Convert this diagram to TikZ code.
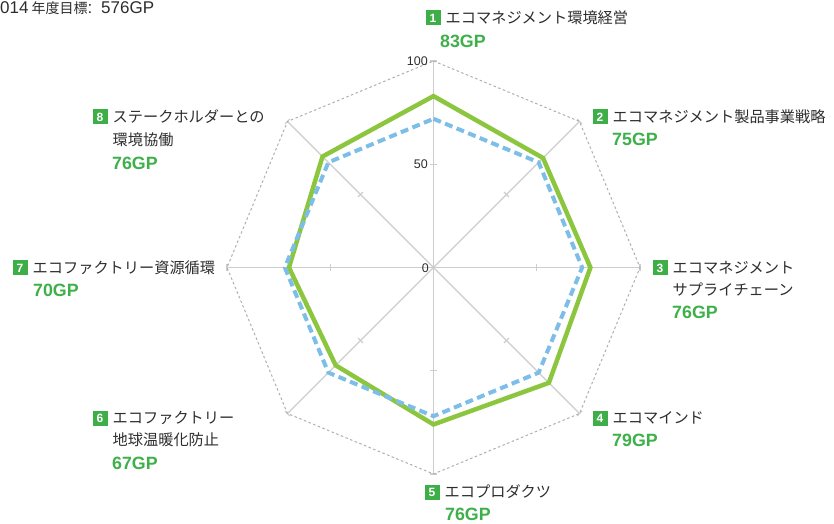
\documentclass[tikz,border=0pt]{standalone}
\usepackage{fontspec}
\setmainfont{Liberation Sans}
\newfontfamily\jpfont{Noto Sans CJK JP}
\usetikzlibrary{positioning,calc}

\definecolor{scoregreen}{RGB}{140,198,63}
\definecolor{goalblue}{RGB}{125,190,233}
\definecolor{badgegreen}{RGB}{62,174,73}
\definecolor{gpgreen}{RGB}{62,176,74}
\definecolor{labelgray}{RGB}{45,45,45}
\definecolor{axisgray}{RGB}{205,205,205}
\definecolor{ringgray}{RGB}{175,175,175}

\tikzset{
  numbox/.style={fill=badgegreen, text=white, font=\fontsize{12bp}{12bp}\selectfont\bfseries,
    minimum width=15bp, minimum height=15bp, inner sep=0pt},
  lbl/.style={text=labelgray, font=\fontsize{15.2bp}{18bp}\selectfont\jpfont, inner sep=0pt, anchor=base west},
  gpval/.style={text=gpgreen, font=\fontsize{17.8bp}{20bp}\selectfont\bfseries, inner sep=0pt, anchor=base west},
  ticklbl/.style={text=labelgray, font=\fontsize{12.5bp}{14bp}\selectfont, inner sep=0pt, anchor=east},
  axisline/.style={axisgray, line width=1.1bp},
  ringline/.style={ringgray, line width=1bp, dash pattern=on 2.5bp off 2.5bp},
}

\begin{document}
\begin{tikzpicture}[x=1bp, y=-1bp]
  \useasboundingbox (0,0) rectangle (834,524);
  \coordinate (c) at (433.5,267.5);

  % title
  \node[anchor=base west, inner sep=0pt, text=labelgray, font=\fontsize{17bp}{18bp}\selectfont] (goal) at (-9.5,14)
    {2014\hspace{3bp}{\jpfont\fontsize{14bp}{16bp}\selectfont 年度目標}:\hspace{9bp}576GP};

  % axes, ticks and outer ring
  \foreach \k in {1,...,8} {
    \draw[axisline] (c) -- ($(c)+(45*\k-135:206.5)$);
    \draw[axisline] ($(c)+(45*\k-135:103.25)+(45*\k-45:3.5)$) -- ($(c)+(45*\k-135:103.25)+(45*\k-225:3.5)$);
    \draw[axisline] ($(c)+(45*\k-135:206.5)+(45*\k-45:3.5)$) -- ($(c)+(45*\k-135:206.5)+(45*\k-225:3.5)$);
  }
  \draw[ringline] ($(c)+(-90:206.5)$) \foreach \k in {2,...,8} { -- ($(c)+(45*\k-135:206.5)$) } -- cycle;

  \node[ticklbl] (v100) at (428,61) {100};
  \node[ticklbl] (v50) at (428,164) {50};
  \node[ticklbl] (v0) at (429,268) {0};

  % scores and goal
  \foreach \v [count=\k] in {83,75,76,79,76,67,70,76}
    \coordinate (score\k) at ($(c)+(45*\k-135:2.065*\v)$);
  \foreach \k in {1,...,8}
    \coordinate (aim\k) at ($(c)+(45*\k-135:2.065*72)$);
  \draw[scoregreen, line width=4.5bp] (score1) -- (score2) -- (score3) -- (score4) -- (score5) -- (score6) -- (score7) -- (score8) -- cycle;
  \draw[goalblue, line width=4bp, dash pattern=on 8bp off 4.5bp] (aim1) -- (aim2) -- (aim3) -- (aim4) -- (aim5) -- (aim6) -- (aim7) -- (aim8) -- cycle;

  % labels
  \foreach \n/\x/\y/\name in {1/433/18/エコマネジメント環境経営, 2/600/117/エコマネジメント製品事業戦略,
      3/660/268/エコマネジメント, 4/600/418/エコマインド, 5/432/492/エコプロダクツ,
      6/100/418/エコファクトリー, 7/20/268/エコファクトリー資源循環, 8/100/117/ステークホルダーとの} {
    \node[numbox] (num\n) at (\x,\y) {\n};
    \node[lbl] (name\n) at (\x+12.5,\y+5.5) {\name};
  }
  \node[lbl] (name3b) at (672.5,295.5) {サプライチェーン};
  \node[lbl] (name6b) at (112.5,445.5) {地球温暖化防止};
  \node[lbl] (name8b) at (112.5,145.5) {環境協働};

  \foreach \n/\x/\y/\v in {1/440/47.3/83, 2/612/145.3/75, 3/672/318.3/76, 4/612/446.3/79,
      5/445/520.3/76, 6/112/469.3/67, 7/33/296.3/70, 8/112/169.3/76}
    \node[gpval] (gp\n) at (\x,\y) {\v GP};
\end{tikzpicture}
\end{document}
